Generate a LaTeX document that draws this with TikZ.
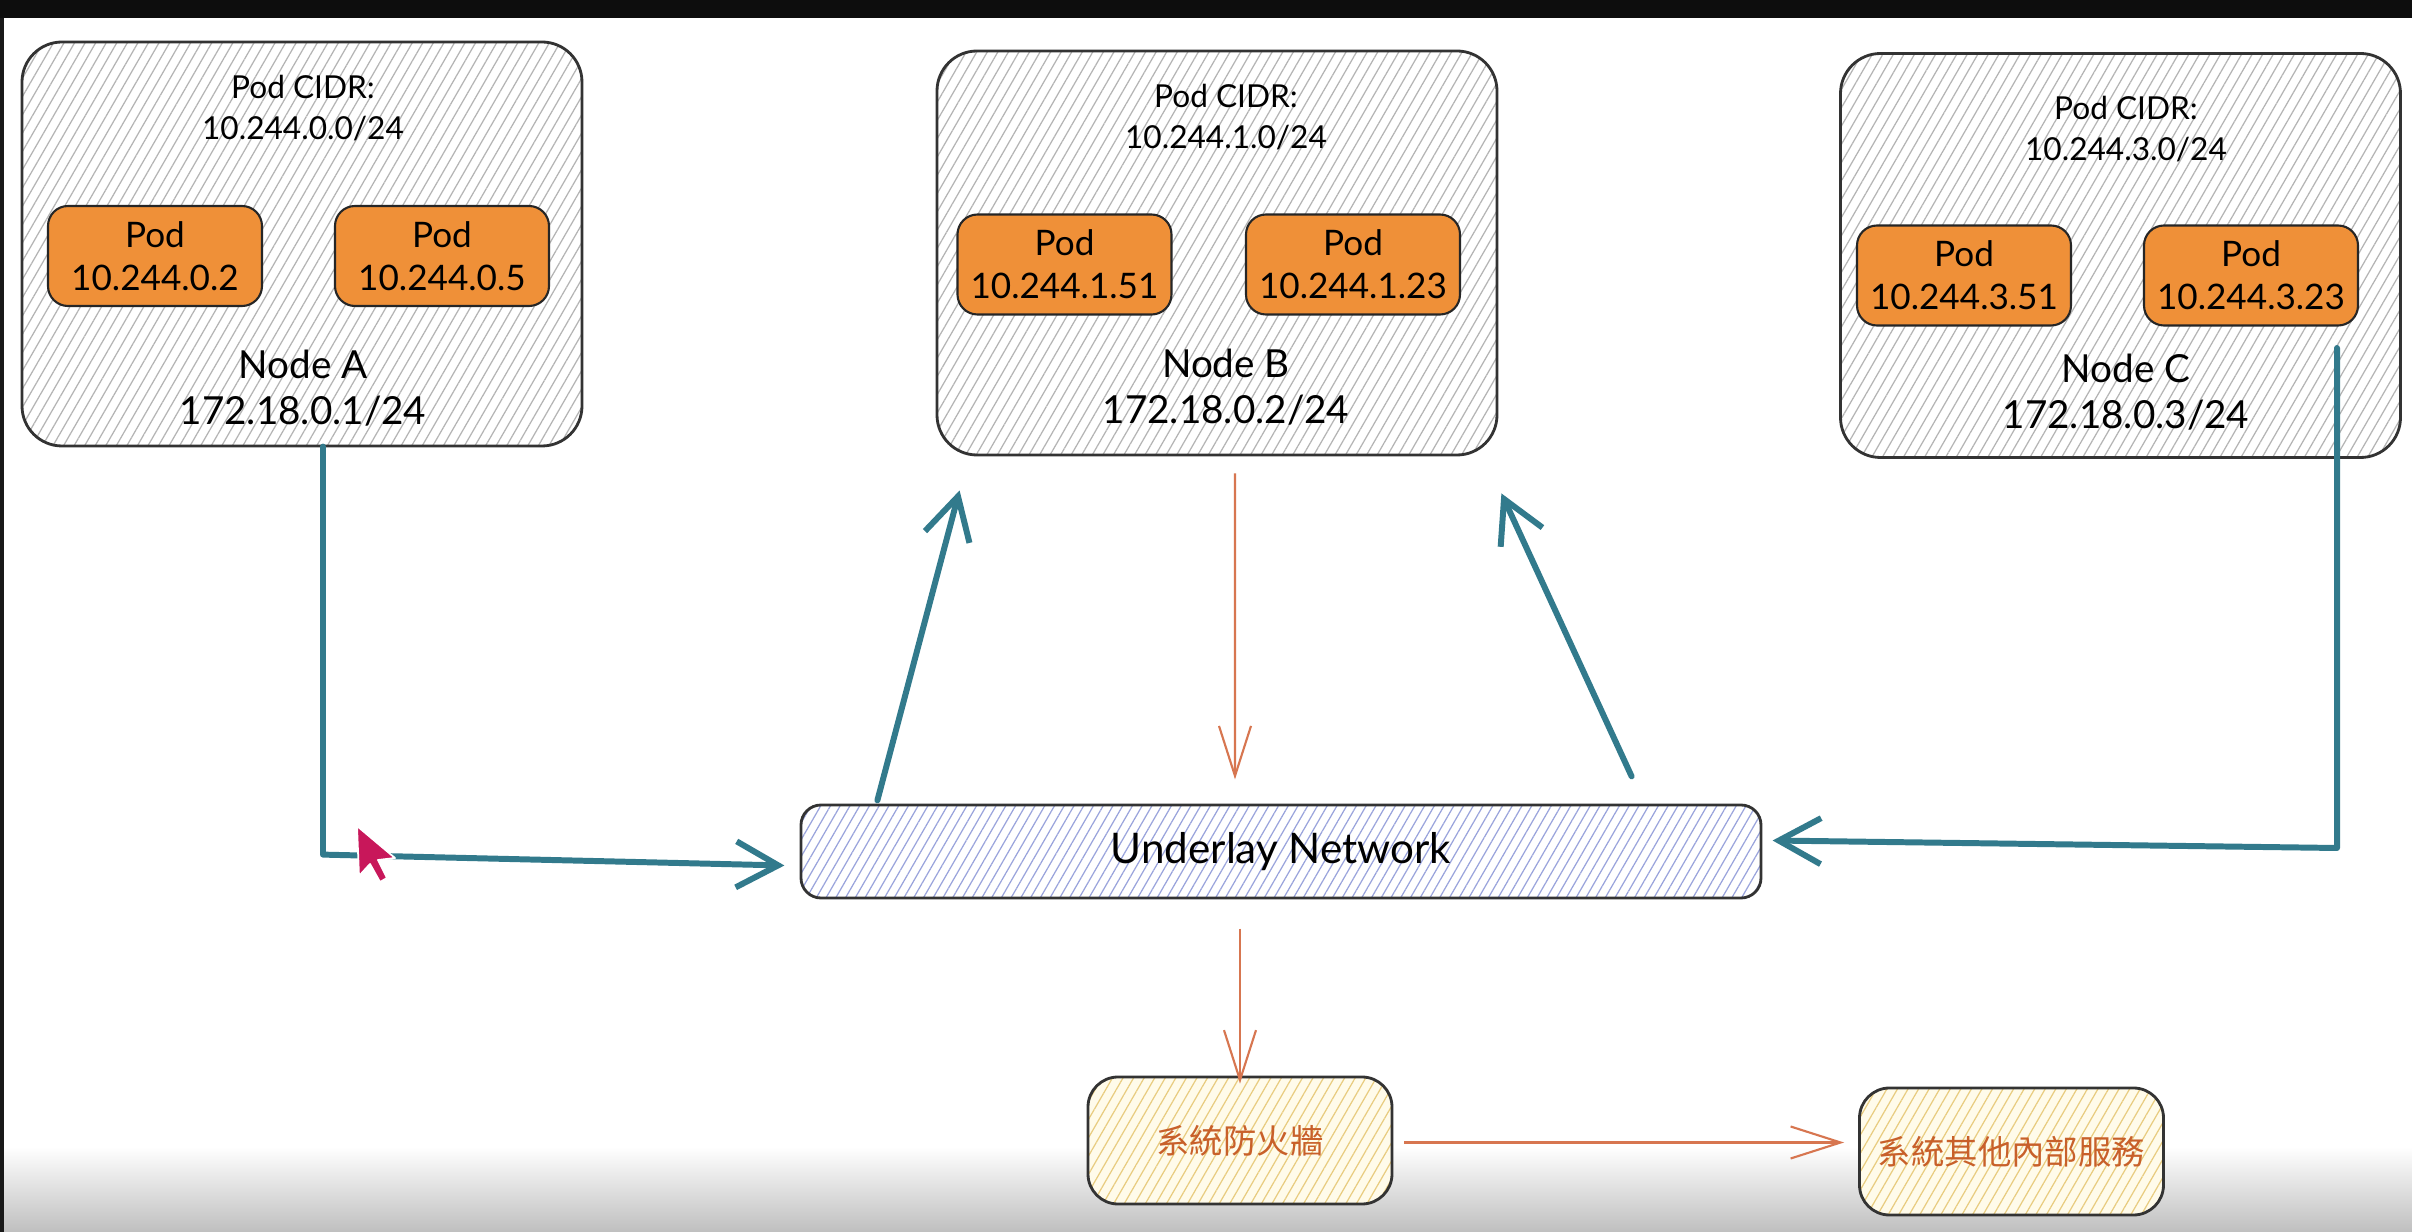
\documentclass[tikz,border=0pt]{standalone}
\usepackage{fontspec}
\setmainfont{Lato}
\newfontfamily\cjk{Noto Sans CJK TC}
\usetikzlibrary{arrows.meta,patterns.meta,positioning}

\definecolor{flowteal}{HTML}{327A8C}
\definecolor{podorange}{HTML}{EF9038}
\definecolor{fwtext}{HTML}{C8602A}
\definecolor{fwarrow}{HTML}{D77650}
\definecolor{hatchgray}{HTML}{B4B4B4}
\definecolor{hatchblue}{HTML}{9AA4DC}
\definecolor{hatchyellow}{HTML}{E8CC80}
\definecolor{fwfill}{HTML}{FFFBEA}
\definecolor{cursorred}{HTML}{C8175A}

\tikzset{
    hostbox/.style={draw=black!80, line width=0.8pt, rounded corners=0.4cm,
        minimum width=5.6cm, minimum height=4.04cm,
        preaction={fill=white},
        pattern={Lines[angle=60,distance=2.6pt,line width=0.35pt]}, pattern color=hatchgray},
    pod/.style={draw=black!85, line width=0.6pt, fill=podorange, rounded corners=0.2cm,
        minimum width=2.14cm, minimum height=1cm, align=center,
        font=\fontsize{10}{12.2}\selectfont},
    cidrtext/.style={align=center, font=\fontsize{9}{11.7}\selectfont},
    hosttext/.style={align=center, font=\fontsize{11}{13.2}\selectfont},
    underlay/.style={draw=black!80, line width=0.8pt, rounded corners=0.2cm,
        minimum width=9.6cm, minimum height=0.93cm,
        preaction={fill=white},
        pattern={Lines[angle=60,distance=2.4pt,line width=0.35pt]}, pattern color=hatchblue,
        font=\fontsize{12}{14}\selectfont},
    svcbox/.style={draw=black!80, line width=0.8pt, rounded corners=0.3cm,
        minimum width=3.04cm, minimum height=1.27cm, text=fwtext,
        preaction={fill=fwfill},
        pattern={Lines[angle=60,distance=2.6pt,line width=0.35pt]}, pattern color=hatchyellow,
        font=\cjk\fontsize{9.5}{12}\selectfont},
    flow/.style={line width=1.7pt, flowteal, line cap=round, line join=round,
        -{Straight Barb[length=4.2mm,width=4.6mm]}},
    thinflow/.style={line width=0.6pt, fwarrow,
        -{Straight Barb[length=5mm,width=3.2mm]}},
}

\begin{document}
\begin{tikzpicture}
    \useasboundingbox (0,0) rectangle (24.12,12.32);

    % Fundo da captura
    \fill[white] (0,0) rectangle (24.12,12.32);
    \shade[top color=white, bottom color=black!25] (0,0) rectangle (24.12,0.85);
    \fill[black!95] (0,12.14) rectangle (24.12,12.32);
    \fill[black!90] (0,0) rectangle (0.04,12.14);

    % Node A
    \node[hostbox] (nodeA) at (3.02,9.88) {};
    \node[cidrtext] (cidrA) at (3.03,11.235) {Pod CIDR:\\10.244.0.0/24};
    \node[pod] (podA1) at (1.55,9.76) {Pod\\10.244.0.2};
    \node[pod] (podA2) at (4.42,9.76) {Pod\\10.244.0.5};
    \node[hosttext] (hostA) at (3.03,8.44) {Node A\\172.18.0.1/24};

    % Node B
    \node[hostbox] (nodeB) at (12.17,9.79) {};
    \node[cidrtext] (cidrB) at (12.26,11.145) {Pod CIDR:\\10.244.1.0/24};
    \node[pod] (podB1) at (10.645,9.675) {Pod\\10.244.1.51};
    \node[pod] (podB2) at (13.53,9.675) {Pod\\10.244.1.23};
    \node[hosttext] (hostB) at (12.26,8.45) {Node B\\172.18.0.2/24};

    % Node C
    \node[hostbox] (nodeC) at (21.205,9.765) {};
    \node[cidrtext] (cidrC) at (21.26,11.03) {Pod CIDR:\\10.244.3.0/24};
    \node[pod] (podC1) at (19.64,9.565) {Pod\\10.244.3.51};
    \node[pod] (podC2) at (22.51,9.565) {Pod\\10.244.3.23};
    \node[hosttext] (hostC) at (21.26,8.40) {Node C\\172.18.0.3/24};

    % Underlay e servicos
    \node[underlay] (under) at (12.81,3.805) {Underlay Network};
    \node[svcbox] (fw) at (12.40,0.915) {系統防火牆};
    \node[svcbox] (svc) at (20.115,0.805) {系統其他內部服務};

    % Setas da rede
    \coordinate (cStart) at (23.37,8.84);
    \draw[flow] ([xshift=2.1mm]nodeA.south) -- ++(0,-4.08) -- ([xshift=-1.6mm,yshift=-1.4mm]under.west);
    \draw[flow] ([xshift=7.7mm,yshift=0.4mm]under.north west) -- ([xshift=2.4mm,yshift=-3.4mm]nodeB.south west);
    \draw[flow] ([xshift=-13mm,yshift=2.8mm]under.north east) -- ([xshift=0.3mm,yshift=-3.7mm]nodeB.south east);
    \draw[flow] (cStart) -- ++(0,-5.0) -- ([xshift=1.1mm,yshift=1.1mm]under.east);

    % Setas do firewall
    \draw[thinflow] ([xshift=1.8mm,yshift=-1.7mm]nodeB.south) -- ([xshift=-4.6mm,yshift=2.5mm]under.north);
    \draw[thinflow] ([yshift=-3mm]fw.north |- under.south) -- ([yshift=-0.8mm]fw.north);
    \draw[thinflow, shorten <=1.1mm, shorten >=1.4mm] ([yshift=-0.2mm]fw.east) -- ([yshift=-0.2mm]svc.west |- fw.east);

    % Cursor
    \filldraw[fill=cursorred, draw=white, line width=0.5pt, line join=round]
        (3.57,4.06) -- ++(0.02,-0.50) -- ++(0.11,0.12) -- ++(0.10,-0.18)
        -- ++(0.07,0.04) -- ++(-0.09,0.18) -- ++(0.17,0.02) -- cycle;
\end{tikzpicture}
\end{document}
